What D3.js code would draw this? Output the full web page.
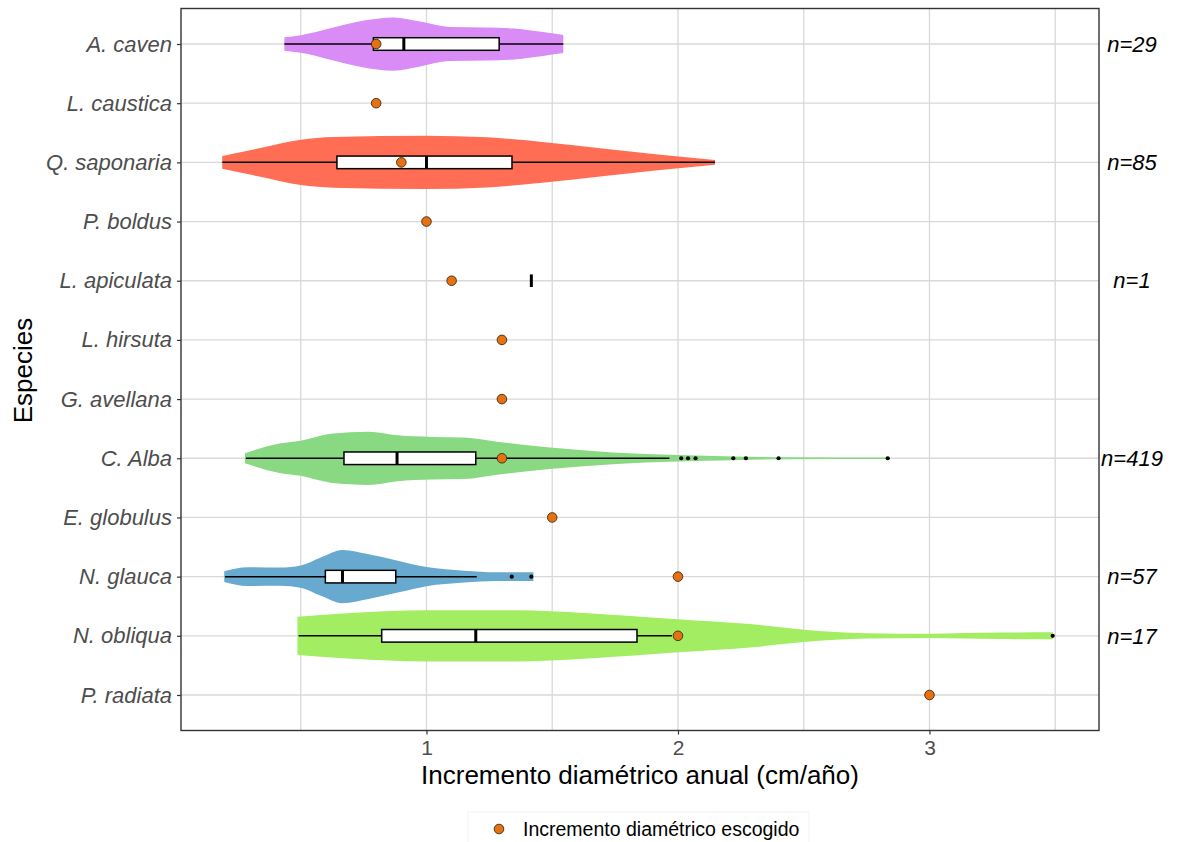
<!DOCTYPE html>
<html>
<head>
<meta charset="utf-8">
<script src="https://cdn.jsdelivr.net/npm/d3@7"></script>
<style>
  html, body { margin: 0; padding: 0; background: #fff; }
  svg { display: block; font-family: "Liberation Sans", Arial, sans-serif; }
</style>
</head>
<body>
<svg id="chart" width="1178" height="842"></svg>
<script>
// ---------------- DATA ----------------
const species = ["A. caven","L. caustica","Q. saponaria","P. boldus","L. apiculata","L. hirsuta",
                 "G. avellana","C. Alba","E. globulus","N. glauca","N. obliqua","P. radiata"];
// chosen annual diameter increment (orange points)
const chosenValues = [0.8,0.8,0.9,1.0,1.1,1.3,1.3,1.3,1.5,2.0,2.0,3.0];
// sample size labels
const nLabels = ["n=29","","n=85","","n=1","","","n=419","","n=57","n=17",""];

const xTicks = [1,2,3];
const xGrid = [0.5,1,1.5,2,2.5,3,3.5];

// violins: species, colour, density profile [value, relative half width]
const violinSpecies = ["A. caven","Q. saponaria","C. Alba","N. glauca","N. obliqua"];
const violinColors  = ["#d98cf5","#ff6e54","#88d982","#67a9cf","#a2ed62"];
const densityAcaven = [[0.435,0.25],[0.5,0.33],[0.63,0.62],[0.74,0.86],[0.87,1.0],[0.97,0.85],
                       [1.09,0.64],[1.24,0.62],[1.35,0.58],[1.47,0.44],[1.544,0.34]];
const densityQsaponaria = [[0.188,0.24],[0.33,0.52],[0.5,0.85],[0.63,0.95],[1.0,1.0],[1.24,0.94],
                           [1.47,0.76],[1.70,0.52],[1.92,0.30],[2.147,0.09]];
const densityCalba = [[0.278,0.19],[0.42,0.56],[0.5,0.66],[0.62,0.92],[0.77,1.0],[0.886,0.86],
                      [1.02,0.8],[1.15,0.78],[1.28,0.62],[1.48,0.41],[1.74,0.22],[2.0,0.12],
                      [2.22,0.07],[2.43,0.04],[2.834,0.03]];
const densityNglauca = [[0.196,0.2],[0.29,0.35],[0.42,0.34],[0.5,0.42],[0.58,0.72],[0.666,1.0],
                        [0.77,0.84],[0.886,0.6],[1.0,0.36],[1.15,0.22],[1.28,0.16],[1.425,0.16]];
const densityNobliqua = [[0.487,0.72],[0.70,0.86],[1.0,0.96],[1.36,0.96],[1.625,0.86],[2.0,0.62],
                         [2.286,0.44],[2.5,0.23],[2.75,0.1],[3.0,0.08],[3.28,0.12],[3.49,0.13]];
const violinDensities = [densityAcaven, densityQsaponaria, densityCalba, densityNglauca, densityNobliqua];

// boxplots: [whisker low, Q1, median, Q3, whisker high]
const boxSpecies = ["A. caven","Q. saponaria","L. apiculata","C. Alba","N. glauca","N. obliqua"];
const boxStats = [
  [0.435,0.789,0.910,1.289,1.544],
  [0.188,0.644,1.000,1.340,2.147],
  [1.417,1.417,1.417,1.417,1.417],
  [0.282,0.672,0.883,1.196,1.966],
  [0.199,0.598,0.666,0.878,1.200],
  [0.492,0.822,1.196,1.837,1.976]
];
const boxOutliers = [
  [],
  [],
  [],
  [2.013,2.04,2.07,2.22,2.27,2.40,2.834],
  [1.339,1.417],
  [3.49]
];

// ---------------- LAYOUT ----------------
const panel = {left: 181, right: 1099, top: 8.5, bottom: 730.5};
const svg = d3.select("#chart");

const x = d3.scaleLinear().domain([0.024, 3.674]).range([panel.left, panel.right]);
const y = d3.scalePoint().domain(species).range([panel.top, panel.bottom]).padding(0.6);
const step = y.step();
const maxHalf = 0.45 * step;
const boxHalf = 6.3;

const gridColor = "#d9d9d9";
const g = svg.append("g");

// gridlines
g.selectAll("line.vg").data(xGrid).join("line")
  .attr("x1", d => x(d)).attr("x2", d => x(d))
  .attr("y1", panel.top).attr("y2", panel.bottom)
  .attr("stroke", gridColor).attr("stroke-width", 1.3);
g.selectAll("line.hg").data(species).join("line")
  .attr("x1", panel.left).attr("x2", panel.right)
  .attr("y1", d => y(d)).attr("y2", d => y(d))
  .attr("stroke", gridColor).attr("stroke-width", 1.3);

// violins
violinSpecies.forEach((sp, i) => {
  const cy = y(sp);
  const area = d3.area()
    .x(d => x(d[0]))
    .y0(d => cy + d[1] * maxHalf)
    .y1(d => cy - d[1] * maxHalf)
    .curve(d3.curveMonotoneX);
  g.append("path").datum(violinDensities[i])
    .attr("d", area)
    .attr("fill", violinColors[i]);
});

// boxplots
boxSpecies.forEach((sp, i) => {
  const cy = y(sp);
  const [lo, q1, med, q3, hi] = boxStats[i];
  const bg = g.append("g");
  if (q3 > q1) {
    bg.append("line").attr("x1", x(lo)).attr("x2", x(hi)).attr("y1", cy).attr("y2", cy)
      .attr("stroke", "#000").attr("stroke-width", 1.5);
    bg.append("rect").attr("x", x(q1)).attr("y", cy - boxHalf)
      .attr("width", x(q3) - x(q1)).attr("height", 2 * boxHalf)
      .attr("fill", "#fff").attr("stroke", "#000").attr("stroke-width", 1.5);
  }
  bg.append("line").attr("x1", x(med)).attr("x2", x(med))
    .attr("y1", cy - boxHalf).attr("y2", cy + boxHalf)
    .attr("stroke", "#000").attr("stroke-width", 3);
  bg.selectAll("circle").data(boxOutliers[i]).join("circle")
    .attr("cx", d => x(d)).attr("cy", cy).attr("r", 2.1).attr("fill", "#000");
});

// chosen increments (orange points)
g.selectAll("circle.chosen").data(species).join("circle")
  .attr("class", "chosen")
  .attr("cx", (d, i) => x(chosenValues[i])).attr("cy", d => y(d))
  .attr("r", 4.8).attr("fill", "#e8710f").attr("stroke", "#3a2a1a").attr("stroke-width", 0.9);

// panel border
svg.append("rect").attr("x", panel.left).attr("y", panel.top)
  .attr("width", panel.right - panel.left).attr("height", panel.bottom - panel.top)
  .attr("fill", "none").attr("stroke", "#333").attr("stroke-width", 1.4);

// x axis
const xAxis = svg.append("g").attr("transform", `translate(0,${panel.bottom})`)
  .call(d3.axisBottom(x).tickValues(xTicks).tickFormat(d3.format("d")).tickSize(4).tickPadding(6));
xAxis.select(".domain").remove();
xAxis.selectAll(".tick line").attr("stroke", "#333").attr("stroke-width", 1.2);
xAxis.selectAll(".tick text").attr("fill", "#4d4d4d").style("font-size", "21px")
  .style("font-family", "'Liberation Sans', Arial, sans-serif");

// y axis
const yAxis = svg.append("g").attr("transform", `translate(${panel.left},0)`)
  .call(d3.axisLeft(y).tickSize(4).tickPadding(5));
yAxis.select(".domain").remove();
yAxis.selectAll(".tick line").attr("stroke", "#333").attr("stroke-width", 1.2);
yAxis.selectAll(".tick text").attr("fill", "#4d4d4d").style("font-size", "22px")
  .style("font-style", "italic").style("font-family", "'Liberation Sans', Arial, sans-serif");

// n labels
svg.selectAll("text.nlab").data(species).join("text")
  .attr("class", "nlab")
  .attr("x", 1132).attr("y", d => y(d)).attr("dy", "0.35em")
  .attr("text-anchor", "middle")
  .style("font-size", "22px").style("font-style", "italic").attr("fill", "#000")
  .text((d, i) => nLabels[i]);

// axis titles
svg.append("text").attr("x", (panel.left + panel.right) / 2).attr("y", 784)
  .attr("text-anchor", "middle").style("font-size", "26px").attr("fill", "#000")
  .text("Incremento diamétrico anual (cm/año)");
svg.append("text")
  .attr("transform", `translate(32,${(panel.top + panel.bottom) / 2 + 1}) rotate(-90)`)
  .attr("text-anchor", "middle").style("font-size", "26px").attr("fill", "#000")
  .text("Especies");

// legend
const lg = svg.append("g");
lg.append("rect").attr("x", 468).attr("y", 812).attr("width", 341).attr("height", 34)
  .attr("fill", "#fff").attr("stroke", "#f3f3f3").attr("stroke-width", 1);
lg.append("circle").attr("cx", 499).attr("cy", 829).attr("r", 4.8)
  .attr("fill", "#e8710f").attr("stroke", "#3a2a1a").attr("stroke-width", 0.9);
lg.append("text").attr("x", 523).attr("y", 829).attr("dy", "0.35em")
  .style("font-size", "19.5px").attr("fill", "#000")
  .text("Incremento diamétrico escogido");
</script>
</body>
</html>
